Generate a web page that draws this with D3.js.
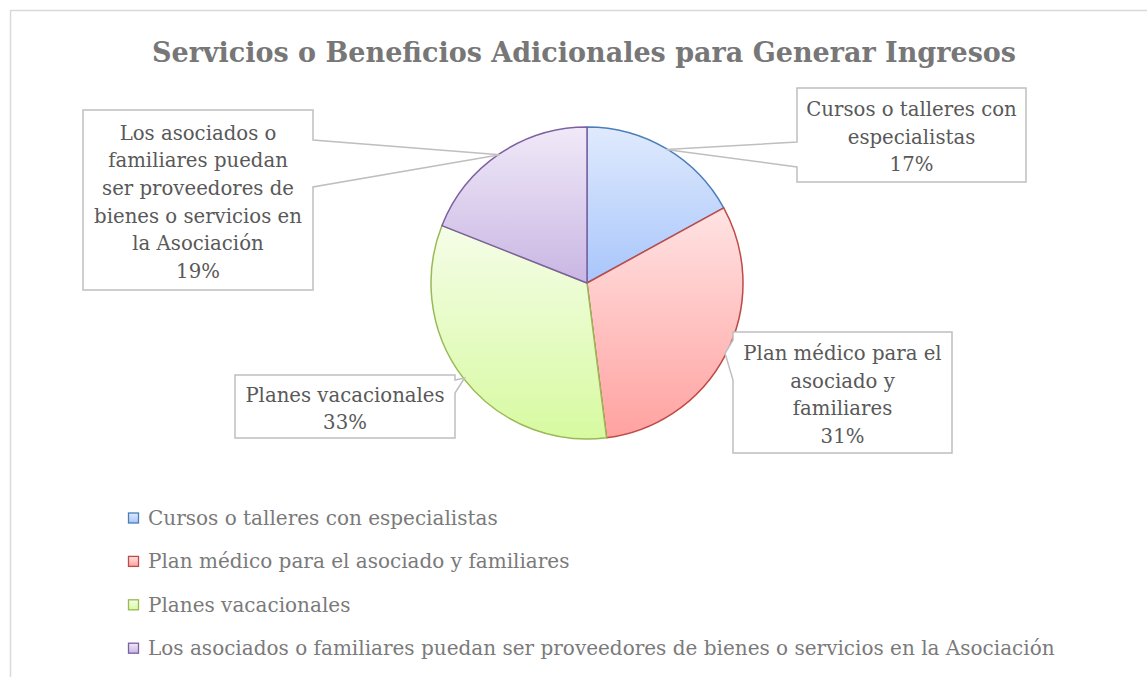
<!DOCTYPE html>
<html>
<head>
<meta charset="utf-8">
<script src="https://cdn.jsdelivr.net/npm/d3@7"></script>
<style>
  html, body { margin: 0; padding: 0; background: #ffffff; }
  svg { display: block; }
</style>
</head>
<body>
<div id="chart"></div>
<script>
const TITLE = 'Servicios o Beneficios Adicionales para Generar Ingresos'

const categories = [
  'Cursos o talleres con especialistas',
  'Plan médico para el asociado y familiares',
  'Planes vacacionales',
  'Los asociados o familiares puedan ser proveedores de bienes o servicios en la Asociación',
]
const values = [17, 31, 33, 19]
// how the data labels wrap inside their boxes
const labelLines = [
  ['Cursos o talleres con', 'especialistas'],
  ['Plan médico para el', 'asociado y', 'familiares'],
  ['Planes vacacionales'],
  ['Los asociados o', 'familiares puedan', 'ser proveedores de', 'bienes o servicios en', 'la Asociación'],
]

const W = 1147, H = 677
const CX = 587, CY = 283, R = 156
const FONT = "'DejaVu Serif', Cambria, serif"

const SLICE_STYLE = [
  { top: '#e0eafd', bottom: '#a8c6fb', stroke: '#4a7ebb' },
  { top: '#ffe3e3', bottom: '#ffa2a0', stroke: '#be4b48' },
  { top: '#f5fde8', bottom: '#d7faa0', stroke: '#98b954' },
  { top: '#f0e9f8', bottom: '#c9b6e3', stroke: '#7d60a0' },
]

// label box placement (as Excel laid them out); side = which edge the pointer leaves from
const LABEL_BOX = [
  { x: 797, y: 88,  w: 229, h: 94,  side: 'left',  a: 54, b: 79 },
  { x: 733, y: 332, w: 219, h: 121, side: 'left',  a: 8,  b: 48 },
  { x: 235, y: 375, w: 220, h: 63,  side: 'right', a: 5,  b: 18 },
  { x: 83,  y: 110, w: 230, h: 180, side: 'right', a: 30, b: 77 },
]
const LINE_H = 27.6

const svg = d3.select('#chart').append('svg')
  .attr('width', W).attr('height', H)

// chart frame (only top and left edges are visible in the crop)
svg.append('rect')
  .attr('x', 10.5).attr('y', 10.5)
  .attr('width', W + 20).attr('height', H + 20)
  .attr('fill', 'none')
  .attr('stroke', '#d9d9d9')
  .attr('stroke-width', 1.5)

svg.append('text')
  .attr('x', 584).attr('y', 62)
  .attr('text-anchor', 'middle')
  .attr('font-family', FONT)
  .attr('font-weight', 'bold')
  .attr('font-size', '27px')
  .attr('fill', '#777777')
  .text(TITLE)

const defs = svg.append('defs')
SLICE_STYLE.forEach((s, i) => {
  const g = defs.append('linearGradient')
    .attr('id', `grad${i}`)
    .attr('x1', 0).attr('y1', 0).attr('x2', 0).attr('y2', 1)
  g.append('stop').attr('offset', '0%').attr('stop-color', s.top)
  g.append('stop').attr('offset', '100%').attr('stop-color', s.bottom)
})

const pie = d3.pie().sort(null).value(d => d)
const arcs = pie(values)
const arc = d3.arc().innerRadius(0).outerRadius(R)

const pieG = svg.append('g').attr('transform', `translate(${CX},${CY})`)
pieG.selectAll('path.slice')
  .data(arcs)
  .enter()
  .append('path')
  .attr('class', 'slice')
  .attr('d', arc)
  .attr('fill', (d, i) => `url(#grad${i})`)
  .attr('stroke', (d, i) => SLICE_STYLE[i].stroke)
  .attr('stroke-width', 1.5)
  .attr('stroke-linejoin', 'round')

// data label callouts
arcs.forEach((d, i) => {
  const b = LABEL_BOX[i]
  const mid = (d.startAngle + d.endAngle) / 2
  const tip = [CX + Math.sin(mid) * (R - 1), CY - Math.cos(mid) * (R - 1)]
  let pts
  if (b.side === 'left') {
    pts = [[b.x, b.y], [b.x + b.w, b.y], [b.x + b.w, b.y + b.h], [b.x, b.y + b.h],
           [b.x, b.y + b.b], tip, [b.x, b.y + b.a]]
  } else {
    pts = [[b.x, b.y], [b.x + b.w, b.y], [b.x + b.w, b.y + b.a], tip,
           [b.x + b.w, b.y + b.b], [b.x + b.w, b.y + b.h], [b.x, b.y + b.h]]
  }
  svg.append('path')
    .attr('d', d3.line()(pts) + 'Z')
    .attr('fill', '#ffffff')
    .attr('stroke', '#bfbfbf')
    .attr('stroke-width', 1.5)

  const lines = labelLines[i].concat([`${values[i]}%`])
  const cy = b.y + b.h / 2 + 2
  const first = cy - (lines.length - 1) * LINE_H / 2
  const t = svg.append('text')
    .attr('text-anchor', 'middle')
    .attr('font-family', FONT)
    .attr('font-size', '19.7px')
    .attr('fill', '#595959')
  lines.forEach((ln, j) => {
    t.append('tspan')
      .attr('x', b.x + b.w / 2)
      .attr('y', first + j * LINE_H)
      .attr('dy', '0.35em')
      .text(ln)
  })
})

// legend
const legend = svg.append('g').attr('transform', 'translate(128,518)')
const item = legend.selectAll('g')
  .data(categories)
  .enter()
  .append('g')
  .attr('transform', (d, i) => `translate(0,${i * 43.4})`)

item.append('rect')
  .attr('x', 0.5).attr('y', -5)
  .attr('width', 10).attr('height', 10)
  .attr('fill', (d, i) => `url(#grad${i})`)
  .attr('stroke', (d, i) => SLICE_STYLE[i].stroke)
  .attr('stroke-width', 1.3)

item.append('text')
  .attr('x', 20)
  .attr('dy', '0.35em')
  .attr('font-family', FONT)
  .attr('font-size', '20px')
  .attr('fill', '#7a7a7a')
  .text(d => d)
</script>
</body>
</html>
